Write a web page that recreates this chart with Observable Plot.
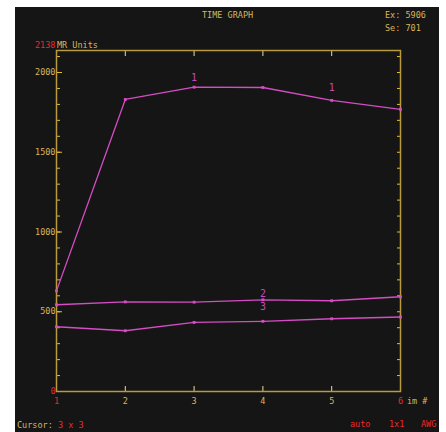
<!DOCTYPE html>
<html>
<head>
<meta charset="utf-8">
<script src="https://cdn.jsdelivr.net/npm/d3@7"></script>
<script src="https://cdn.jsdelivr.net/npm/@observablehq/plot@0.6"></script>
<style>
  html, body { margin: 0; padding: 0; background: #fff; }
  #wrap { position: relative; width: 446px; height: 432px; overflow: hidden; }
  #panel { position: absolute; left: 15px; top: 7px; width: 424px; height: 425px; background: #151515; }
  .t { position: absolute; font-family: "DejaVu Sans Mono", monospace; font-size: 8.5px; line-height: 10px; color: #d9b65a; white-space: pre; }
  .r { color: #f02828; }
  svg { position: absolute; left: 0; top: 0; }
</style>
</head>
<body>
<div id="wrap">
  <div id="panel"></div>
</div>
<script>
// ---- data ----
const runs = [1, 2, 3, 4, 5, 6];
const series1 = [631, 1831, 1908, 1906, 1825, 1769];
const series2 = [544, 562, 560, 575, 569, 594];
const series3 = [406, 381, 433, 440, 456, 467];
const yMax = 2138;
const yLabelTicks = [500, 1000, 1500, 2000];
const xMidTicks = [2, 3, 4, 5];
const xEndTicks = [1, 6];
const curveLabels = [
  { run: 3, value: 1908, label: "1", dy: -9 },
  { run: 5, value: 1825, label: "1", dy: -13 },
  { run: 4, value: 575, label: "2", dy: -6 },
  { run: 4, value: 575, label: "3", dy: 7 }
];

const seriesData = [
  { name: "1", values: series1 },
  { name: "2", values: series2 },
  { name: "3", values: series3 }
].flatMap(s => s.values.map((v, i) => ({ series: s.name, run: runs[i], value: v })));

const minorTicks = d3.range(0, yMax, 100);

const tan = "#d9b65a";
const red = "#f02828";
const tickCol = "#e2c21c";
const frameCol = "#b99a3c";
const mag = "#d64cc4";

const chart = Plot.plot({
  width: 424,
  height: 425,
  marginLeft: 41,
  marginRight: 39,
  marginTop: 43,
  marginBottom: 41,
  style: { background: "transparent", fontFamily: "DejaVu Sans Mono, monospace", fontSize: "8.5px" },
  x: { domain: [1, 6] },
  y: { domain: [0, yMax] },
  marks: [
    Plot.axisY({ ticks: minorTicks, anchor: "left", tickSize: -4, stroke: tickCol, tickFormat: () => "", label: null }),
    Plot.axisY({ ticks: yLabelTicks, anchor: "left", tickSize: -6, stroke: tickCol, tickFormat: () => "", label: null }),
    Plot.axisY({ ticks: minorTicks, anchor: "right", tickSize: -4, stroke: tickCol, tickFormat: () => "", label: null }),
    Plot.axisY({ ticks: yLabelTicks, anchor: "left", tickSize: 0, tickPadding: 1, fill: tan, tickFormat: d => String(d), label: null }),
    Plot.axisY({ ticks: [0], anchor: "left", tickSize: 0, tickPadding: 1, fill: red, tickFormat: d => String(d), label: null }),
    Plot.axisX({ ticks: runs, anchor: "top", tickSize: -5, stroke: "#e8dca0", tickFormat: () => "", label: null }),
    Plot.axisX({ ticks: runs, anchor: "bottom", tickSize: -5, stroke: "#e8dca0", tickFormat: () => "", label: null }),
    Plot.axisX({ ticks: xMidTicks, anchor: "bottom", tickSize: 0, tickPadding: 6, fill: tan, tickFormat: d => String(d), label: null }),
    Plot.axisX({ ticks: xEndTicks, anchor: "bottom", tickSize: 0, tickPadding: 6, fill: red, tickFormat: d => String(d), label: null }),
    Plot.frame({ stroke: frameCol, strokeWidth: 1.5 }),
    Plot.line(seriesData, { x: "run", y: "value", z: "series", stroke: mag, strokeWidth: 1.3 }),
    Plot.dot(seriesData, { x: "run", y: "value", symbol: "square", r: 1.6, fill: mag, stroke: "none" }),
    ...curveLabels.map(c => Plot.text([c], { x: "run", y: "value", text: "label", dy: c.dy, fill: "#c24cb2", fontSize: 10 }))
  ]
});

const panel = document.getElementById("panel");
panel.appendChild(chart);

const notes = [
  { text: "TIME GRAPH", x: 202, y: 10, cls: "" },
  { text: "Ex: 5906", x: 385, y: 10, cls: "" },
  { text: "Se: 701", x: 385, y: 23, cls: "" },
  { text: "2138", x: 35, y: 40, cls: "r" },
  { text: "MR Units", x: 57, y: 40, cls: "" },
  { text: "im #", x: 407, y: 396, cls: "" },
  { text: "Cursor: ", x: 17, y: 420, cls: "" },
  { text: "3 x 3", x: 58, y: 420, cls: "r" },
  { text: "auto", x: 350, y: 419, cls: "r" },
  { text: "1x1", x: 389, y: 419, cls: "r" },
  { text: "AWG", x: 421, y: 419, cls: "r" }
];
const wrap = document.getElementById("wrap");
for (const n of notes) {
  const d = document.createElement("div");
  d.className = "t " + n.cls;
  d.textContent = n.text;
  d.style.left = n.x + "px";
  d.style.top = n.y + "px";
  wrap.appendChild(d);
}
</script>
</body>
</html>
